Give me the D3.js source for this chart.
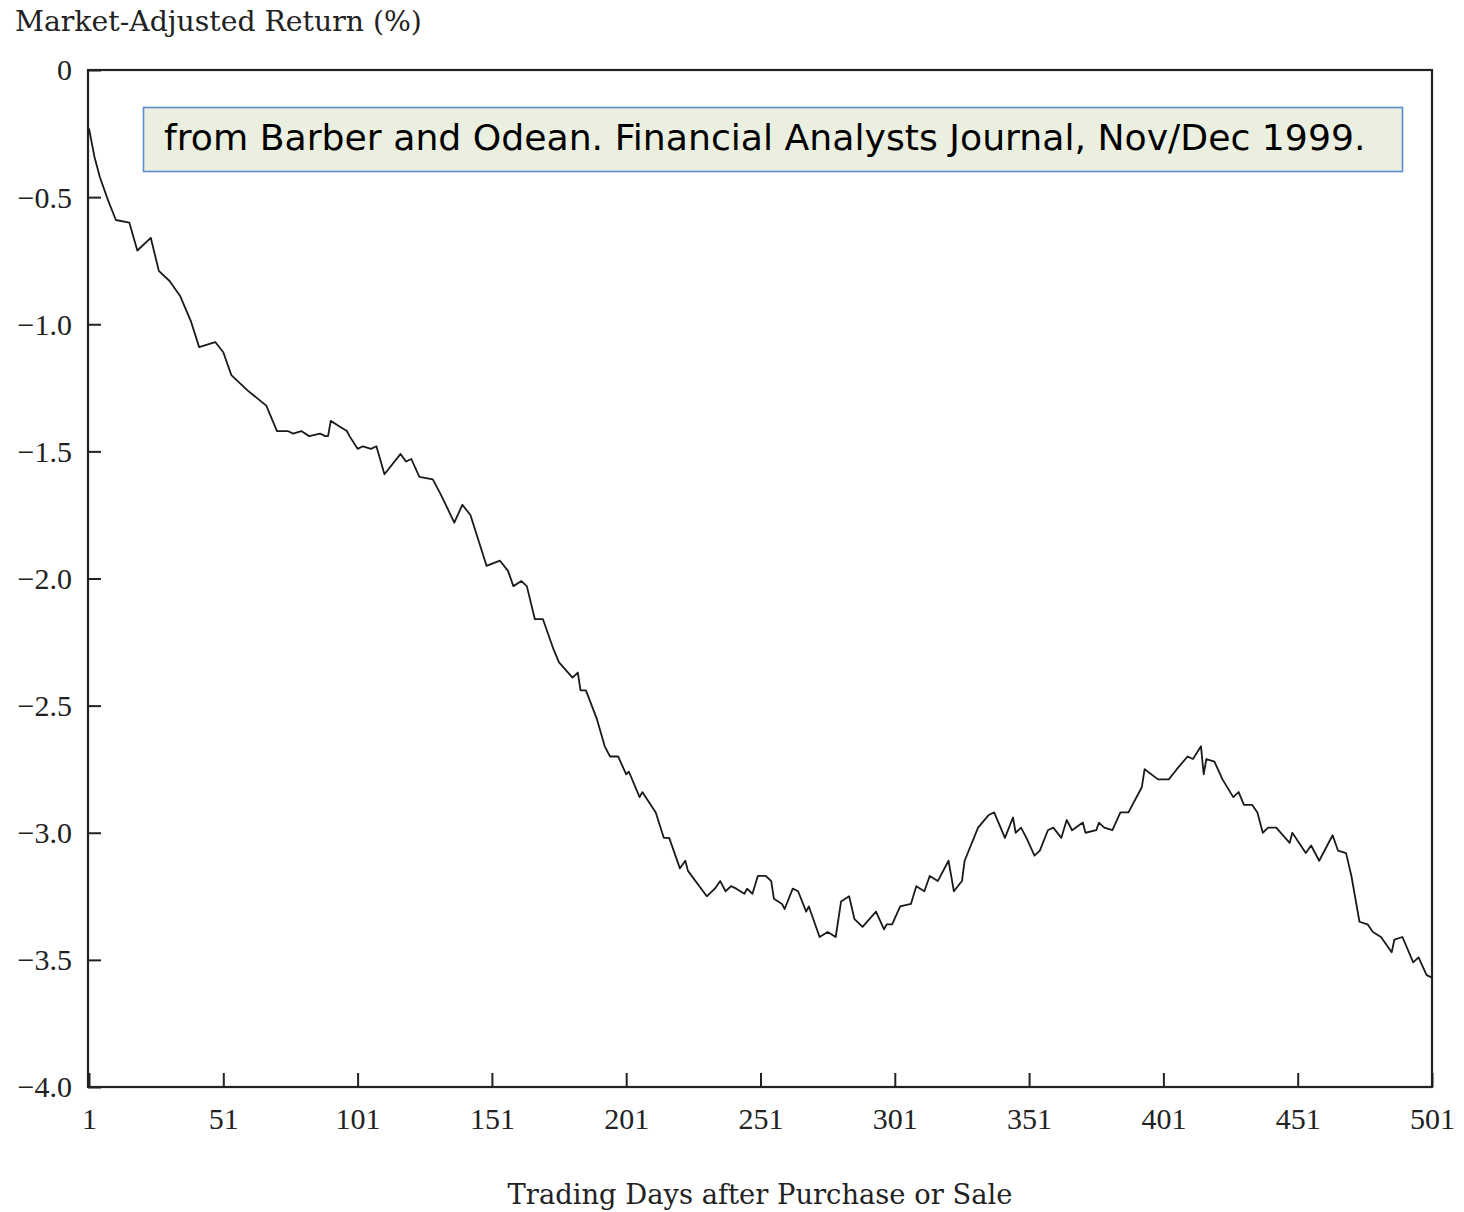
<!DOCTYPE html>
<html>
<head>
<meta charset="utf-8">
<script src="https://cdn.jsdelivr.net/npm/d3@7"></script>
<style>
  html, body { margin: 0; padding: 0; background: #fff; }
  svg { display: block; }
</style>
</head>
<body>
<svg id="chart" width="1464" height="1212"></svg>
<script>
// Cumulative market-adjusted return after purchase or sale, by trading day
const days = [
  1, 3, 5, 8, 11, 16, 19, 24, 27, 31,
  35, 39, 42, 48, 51, 54, 60, 67, 71, 75,
  77, 80, 83, 87, 89, 90, 91, 94, 97, 98,
  101, 103, 106, 108, 111, 117, 119, 121, 124, 129,
  132, 137, 140, 143, 149, 154, 157, 159, 162, 164,
  167, 170, 174, 176, 181, 183, 184, 186, 190, 193,
  195, 198, 201, 202, 206, 207, 212, 215, 217, 221,
  223, 224, 231, 234, 236, 238, 240, 242, 245, 246,
  248, 250, 253, 255, 256, 259, 260, 263, 265, 268,
  269, 273, 276, 279, 281, 284, 286, 289, 294, 297,
  298, 300, 303, 307, 309, 312, 314, 317, 321, 323,
  326, 327, 332, 336, 338, 342, 345, 346, 348, 350,
  353, 355, 358, 360, 363, 365, 367, 371, 372, 376,
  377, 379, 382, 385, 388, 393, 394, 399, 403, 406,
  410, 412, 415, 416, 417, 420, 423, 427, 429, 431,
  434, 436, 438, 440, 443, 448, 449, 454, 456, 459,
  464, 466, 469, 471, 474, 477, 479, 482, 486, 487,
  490, 494, 496, 499, 501
];
const returns = [
  -0.23, -0.34, -0.42, -0.51, -0.59, -0.60, -0.71, -0.66, -0.79, -0.83,
  -0.89, -0.99, -1.09, -1.07, -1.11, -1.20, -1.26, -1.32, -1.42, -1.42,
  -1.43, -1.42, -1.44, -1.43, -1.44, -1.44, -1.38, -1.40, -1.42, -1.44,
  -1.49, -1.48, -1.49, -1.48, -1.59, -1.51, -1.54, -1.53, -1.60, -1.61,
  -1.67, -1.78, -1.71, -1.75, -1.95, -1.93, -1.97, -2.03, -2.01, -2.03,
  -2.16, -2.16, -2.28, -2.33, -2.39, -2.37, -2.44, -2.44, -2.55, -2.66,
  -2.70, -2.70, -2.77, -2.76, -2.86, -2.84, -2.92, -3.02, -3.02, -3.14,
  -3.11, -3.15, -3.25, -3.22, -3.19, -3.23, -3.21, -3.22, -3.24, -3.22,
  -3.24, -3.17, -3.17, -3.19, -3.26, -3.28, -3.30, -3.22, -3.23, -3.31,
  -3.29, -3.41, -3.39, -3.41, -3.27, -3.25, -3.34, -3.37, -3.31, -3.38,
  -3.36, -3.36, -3.29, -3.28, -3.21, -3.23, -3.17, -3.19, -3.11, -3.23,
  -3.19, -3.11, -2.98, -2.93, -2.92, -3.02, -2.94, -3.00, -2.98, -3.02,
  -3.09, -3.07, -2.99, -2.98, -3.02, -2.95, -2.99, -2.96, -3.00, -2.99,
  -2.96, -2.98, -2.99, -2.92, -2.92, -2.82, -2.75, -2.79, -2.79, -2.75,
  -2.70, -2.71, -2.66, -2.77, -2.71, -2.72, -2.79, -2.86, -2.84, -2.89,
  -2.89, -2.92, -3.00, -2.98, -2.98, -3.04, -3.00, -3.08, -3.05, -3.11,
  -3.01, -3.07, -3.08, -3.17, -3.35, -3.36, -3.39, -3.41, -3.47, -3.42,
  -3.41, -3.51, -3.49, -3.56, -3.57
];
const xTicks = [1, 51, 101, 151, 201, 251, 301, 351, 401, 451, 501];
const yTicks = [0, -0.5, -1.0, -1.5, -2.0, -2.5, -3.0, -3.5, -4.0];
const yTitle = "Market-Adjusted Return (%)";
const xTitle = "Trading Days after Purchase or Sale";
const sourceNote = "from Barber and Odean. Financial Analysts Journal, Nov/Dec 1999.";

const series = days.map((d, i) => ({ day: d, value: returns[i] }));

const svg = d3.select("#chart");
const tickFont = "'Liberation Serif', 'DejaVu Serif', serif";
const titleFont = "'DejaVu Serif', 'Liberation Serif', serif";
const sans = "'DejaVu Sans', 'Open Sans', sans-serif";
const ink = "#222";

const plot = { left: 88, right: 1432, top: 70, bottom: 1087 };

const x = d3.scaleLinear().domain([1, 501]).range([plot.left + 1, plot.right]);
const y = d3.scaleLinear().domain([-4, 0]).range([plot.bottom, plot.top]);

svg.append("rect").attr("width", 1464).attr("height", 1212).attr("fill", "#fff");

// scale a text element's font size so it spans the given width
function fitWidth(sel, width) {
  const node = sel.node();
  const fs = parseFloat(sel.attr("font-size"));
  const w = node.getComputedTextLength();
  if (w > 0) sel.attr("font-size", (fs * width / w).toFixed(2));
}

const tickFmt = v => v === 0 ? "0" : "\u2212" + Math.abs(v).toFixed(1);

// y axis: ticks point inward
const yAxis = d3.axisLeft(y)
  .tickValues(yTicks)
  .tickFormat(tickFmt)
  .tickSizeInner(-13)
  .tickSizeOuter(0)
  .tickPadding(16);

const gy = svg.append("g")
  .attr("transform", `translate(${plot.left},0)`)
  .call(yAxis);
gy.select(".domain").remove();
gy.selectAll(".tick line").attr("stroke", ink).attr("stroke-width", 2);
gy.selectAll(".tick text")
  .attr("font-family", tickFont).attr("font-size", 30).attr("fill", ink)
  .attr("dy", "0.33em");

// x axis: ticks point upward into the plot
const xAxis = d3.axisBottom(x)
  .tickValues(xTicks)
  .tickFormat(d3.format("d"))
  .tickSizeInner(-14)
  .tickSizeOuter(0)
  .tickPadding(21);

const gx = svg.append("g")
  .attr("transform", `translate(0,${plot.bottom})`)
  .call(xAxis);
gx.select(".domain").remove();
gx.selectAll(".tick line").attr("stroke", ink).attr("stroke-width", 2);
gx.selectAll(".tick text")
  .attr("font-family", tickFont).attr("font-size", 30).attr("fill", ink);

// plot frame
svg.append("rect")
  .attr("x", plot.left).attr("y", plot.top)
  .attr("width", plot.right - plot.left).attr("height", plot.bottom - plot.top)
  .attr("fill", "none").attr("stroke", ink).attr("stroke-width", 2.2);

// return curve
const line = d3.line()
  .x(d => x(d.day))
  .y(d => y(d.value));

svg.append("path")
  .datum(series)
  .attr("d", line)
  .attr("fill", "none")
  .attr("stroke", "#1a1a1a")
  .attr("stroke-width", 1.8)
  .attr("stroke-linejoin", "round");

// axis titles
const yt = svg.append("text")
  .attr("x", 15).attr("y", 31)
  .attr("font-family", titleFont).attr("font-size", 24).attr("fill", ink)
  .text(yTitle);
fitWidth(yt, 407);

const xt = svg.append("text")
  .attr("x", 760).attr("y", 1204)
  .attr("text-anchor", "middle")
  .attr("font-family", titleFont).attr("font-size", 24).attr("fill", ink)
  .text(xTitle);
fitWidth(xt, 505);

// source note box
svg.append("rect")
  .attr("x", 143.5).attr("y", 107.5)
  .attr("width", 1259).attr("height", 64)
  .attr("fill", "#ebefdf")
  .attr("stroke", "#5a8ccf").attr("stroke-width", 1.6);

const note = svg.append("text")
  .attr("x", 164).attr("y", 150)
  .attr("font-family", sans).attr("font-size", 36).attr("fill", "#000")
  .text(sourceNote);
fitWidth(note, 1202);
</script>
</body>
</html>
